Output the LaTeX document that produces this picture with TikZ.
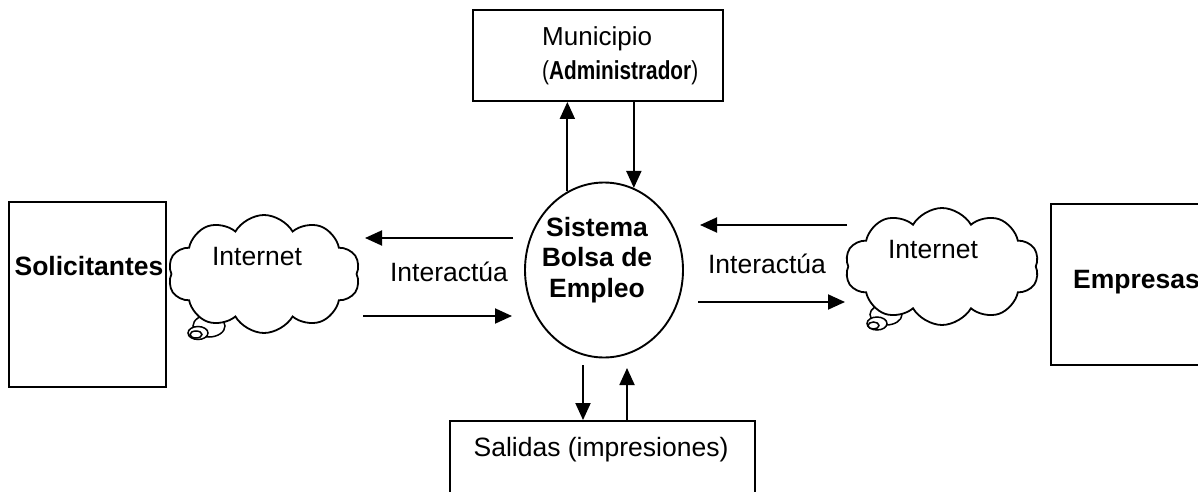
\documentclass[tikz,border=0pt]{standalone}
\usepackage{fontspec}
\setmainfont{Liberation Sans}
\usetikzlibrary{shapes.geometric,shapes.symbols,arrows.meta}
\begin{document}
\begin{tikzpicture}[x=1pt,y=-1pt,
  every node/.style={font=\fontsize{26.5}{31}\selectfont, inner sep=0pt},
  box/.style={draw, line width=1.9pt, rectangle, inner sep=0pt},
  arr/.style={line width=1.9pt, -{Triangle[length=17pt,width=15pt]}},
  cloudy/.style={draw, fill=white, line width=1.8pt, cloud, cloud puffs=10, cloud puff arc=120, cloud ignores aspect, inner sep=0pt},
  bub/.style={draw, fill=white, line width=1.5pt},
  bold/.style={font=\fontsize{26.5}{31}\selectfont\bfseries}]
\clip (0,0) rectangle (1198,492);
\fill[white] (0,0) rectangle (1198,492);

% boxes
\node[box, minimum width=250pt, minimum height=91pt] (muni) at (598,55.5) {};
\node[box, minimum width=157pt, minimum height=185pt] (sol) at (87.5,294.5) {};
\node[box, minimum width=229pt, minimum height=161pt] (emp) at (1165.5,284.5) {};
\node[box, minimum width=305pt, minimum height=109pt] (sal) at (602.5,475.5) {};
\node[draw, line width=1.9pt, ellipse, minimum width=158pt, minimum height=175pt] (sys) at (604,270) {};

% texts
\node[anchor=west, align=left, font=\fontsize{26}{34}\selectfont] (muniT) at (542,56) {Municipio\\\scalebox{0.8}[1]{(\textbf{Administrador})}};
\node[bold] (solT) at (89,266) {Solicitantes};
\node[bold, anchor=west] (empT) at (1073,282) {Empresas};
\node[align=center, font=\fontsize{26.5}{30.5}\selectfont\bfseries] (sysT) at (597,260) {Sistema\\Bolsa de\\Empleo};
\node (salT) at (601,450) {Salidas (impresiones)};
\node (intL) at (449,272) {Interactúa};
\node (intR) at (767,264) {Interactúa};

% left cloud
\draw[bub] (209,326) ellipse [x radius=16, y radius=11];
\node[cloudy, minimum width=192pt, minimum height=118pt] (cloudL) at (264,274) {};
\draw[bub] (198,333) ellipse [x radius=10, y radius=6.5];
\draw[bub] (196,334.5) ellipse [x radius=6, y radius=3.5];
\node (inetL) at (257,257) {Internet};

% right cloud
\draw[bub] (886,314.5) ellipse [x radius=16, y radius=10.5];
\node[cloudy, minimum width=194pt, minimum height=117pt] (cloudR) at (942,266.5) {};
\draw[bub] (877,323.5) ellipse [x radius=10, y radius=6.5];
\draw[bub] (873.5,325.5) ellipse [x radius=5.5, y radius=3.5];
\node (inetR) at (933,250) {Internet};

% vertical arrows
\draw[arr] (sys.115.7) -- (sys.115.7 |- muni.south);
\draw[arr] (sys.70.3 |- muni.south) -- (sys.70.3);
\coordinate (b1) at (583,365);
\coordinate (b2) at (627,368);
\draw[arr] (b1) -- (b1 |- sal.north);
\draw[arr] (b2 |- sal.north) -- (b2);

% horizontal arrows
\coordinate (l1s) at (513,238); \coordinate (l1e) at (365,238);
\coordinate (l2s) at (363,316); \coordinate (l2e) at (512,316);
\coordinate (r1s) at (847,225); \coordinate (r1e) at (700,225);
\coordinate (r2s) at (698,302); \coordinate (r2e) at (845,302);
\draw[arr] (l1s) -- (l1e);
\draw[arr] (l2s) -- (l2e);
\draw[arr] (r1s) -- (r1e);
\draw[arr] (r2s) -- (r2e);
\end{tikzpicture}
\end{document}
